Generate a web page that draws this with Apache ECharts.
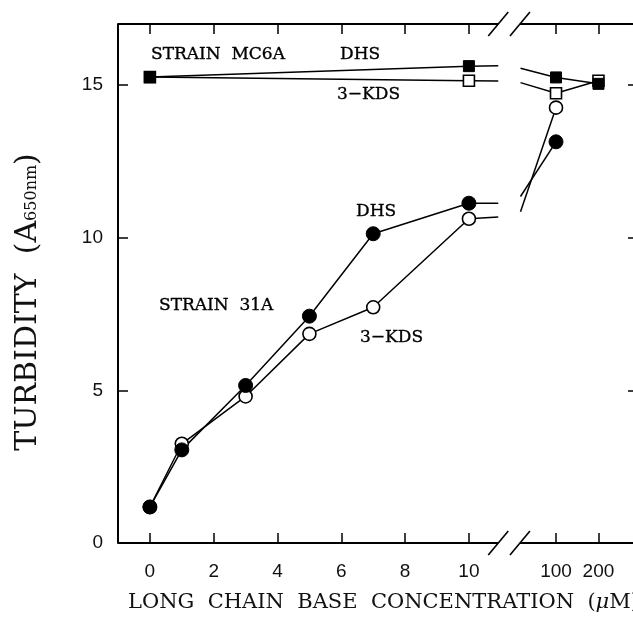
<!DOCTYPE html>
<html>
<head>
<meta charset="utf-8">
<script src="https://cdn.jsdelivr.net/npm/echarts@6/dist/echarts.min.js"></script>
<style>
html,body{margin:0;padding:0;background:#fff;}
#chart{width:633px;height:632px;}
</style>
</head>
<body>
<div id="chart"></div>
<script>
// ---- data ----
const xTickLabels = [0, 2, 4, 6, 8, 10, 100, 200];
const yTickLabels = [0, 5, 10, 15];

// Strain 31A, linear part (µM)
const conc31A = [0, 1, 3, 5, 7, 10];
const dhs31A = [1.18, 3.05, 5.16, 7.43, 10.13, 11.13];
const kds31A = [1.18, 3.25, 4.80, 6.85, 7.72, 10.62];
// Strain 31A, beyond the break
const conc31AHigh = [100];
const dhs31AHigh = [13.14];
const kds31AHigh = [14.26];

// Strain MC6A
const concMC6ALow = [0, 10];
const dhsMC6ALow = [15.26, 15.62];
const kdsMC6ALow = [15.26, 15.14];
const concMC6AHigh = [100, 200];
const dhsMC6AHigh = [15.25, 15.04];
const kdsMC6AHigh = [14.73, 15.14];

// line ends at the two sides of the axis break (µM and turbidity)
const breakLeftConc = 10.92;
const breakRightConc = 56;
const stubLeft = { dhs31A: 11.13, kds31A: 10.68, dhsMC6A: 15.63, kdsMC6A: 15.13 };
const stubRight = { dhs31A: 11.35, kds31A: 10.85, dhsMC6A: 15.55, kdsMC6A: 15.08 };

// ---- broken axis: linear up to the break, logarithmic after ----
const LOG_ORIGIN = 12.73;   // axis position of 100 µM
const LOG_SCALE = 4.42;     // axis units per decade
function pos(c) { return c <= 11 ? c : LOG_ORIGIN + LOG_SCALE * Math.log10(c / 100); }
const BREAK_A = 10.92, BREAK_B = 11.6;
const X_MIN = -1, X_MAX = 15.3;
const tickPositions = xTickLabels.map(pos);
function labelFor(v) {
  let best = 0, d = 1e9;
  tickPositions.forEach((p, i) => { if (Math.abs(p - v) < d) { d = Math.abs(p - v); best = i; } });
  return String(xTickLabels[best]);
}

const SERIF = 'DejaVu Serif';
const SANS = 'Liberation Sans';
const INK = '#111';

function pts(xs, ys) { return xs.map((x, i) => [pos(x), ys[i]]); }
function bare(x, y) { return { value: [pos(x), y], symbol: 'none' }; }

const filled = { color: '#000', borderColor: '#000', borderWidth: 1 };
const open = { color: '#fff', borderColor: '#000', borderWidth: 1.6 };
function lineSeries(data, symbol, size, style) {
  return {
    type: 'line', data: data, symbol: symbol, symbolSize: size,
    showAllSymbol: true, animation: false,
    lineStyle: { color: '#000', width: 1.5 },
    itemStyle: style, emphasis: { disabled: true }, z: 3
  };
}

const series = [
  // MC6A 3-KDS (open squares)
  lineSeries(pts(concMC6ALow, kdsMC6ALow).concat([bare(breakLeftConc, stubLeft.kdsMC6A)]), 'rect', 11, open),
  lineSeries([bare(breakRightConc, stubRight.kdsMC6A)].concat(pts(concMC6AHigh, kdsMC6AHigh)), 'rect', 11, open),
  // MC6A DHS (filled squares)
  lineSeries(pts(concMC6ALow, dhsMC6ALow).concat([bare(breakLeftConc, stubLeft.dhsMC6A)]), 'rect', 11, filled),
  lineSeries([bare(breakRightConc, stubRight.dhsMC6A)].concat(pts(concMC6AHigh, dhsMC6AHigh)), 'rect', 11, filled),
  // 31A 3-KDS (open circles)
  lineSeries(pts(conc31A, kds31A).concat([bare(breakLeftConc, stubLeft.kds31A)]), 'circle', 13, open),
  lineSeries([bare(breakRightConc, stubRight.kds31A)].concat(pts(conc31AHigh, kds31AHigh)), 'circle', 13, open),
  // 31A DHS (filled circles)
  lineSeries(pts(conc31A, dhs31A).concat([bare(breakLeftConc, stubLeft.dhs31A)]), 'circle', 14, filled),
  lineSeries([bare(breakRightConc, stubRight.dhs31A)].concat(pts(conc31AHigh, dhs31AHigh)), 'circle', 14, filled)
];

const tickStyle = { show: true, inside: true, length: 10, lineStyle: { color: '#000', width: 1.5 } };

const chart = echarts.init(document.getElementById('chart'), null, { renderer: 'canvas' });
chart.setOption({
  backgroundColor: '#fff',
  animation: false,
  grid: { left: 118, right: -5, top: 24, bottom: 89, containLabel: false, outerBoundsMode: 'none' },
  xAxis: [{
    type: 'value', position: 'bottom', min: X_MIN, max: X_MAX,
    axisLine: { show: false, onZero: false }, splitLine: { show: false },
    axisTick: Object.assign({ customValues: tickPositions }, tickStyle),
    axisLabel: { customValues: tickPositions, formatter: labelFor, margin: 19,
      fontFamily: SANS, fontSize: 19, color: INK }
  }, {
    type: 'value', position: 'top', min: X_MIN, max: X_MAX,
    axisLine: { show: false, onZero: false }, splitLine: { show: false },
    axisTick: Object.assign({ customValues: tickPositions }, tickStyle),
    axisLabel: { show: false }
  }],
  yAxis: [{
    type: 'value', position: 'left', min: 0, max: 17, interval: 5,
    axisLine: { show: true, onZero: false, lineStyle: { color: '#000', width: 2 } },
    splitLine: { show: false },
    axisTick: tickStyle,
    axisLabel: { margin: 15, fontFamily: SANS, fontSize: 19, color: INK,
      customValues: yTickLabels }
  }, {
    type: 'value', position: 'right', min: 0, max: 17, interval: 5,
    axisLine: { show: false, onZero: false }, splitLine: { show: false },
    axisTick: tickStyle, axisLabel: { show: false }
  }],
  series: series
});

// axis lines with the break marks, placed in data coordinates
function px(x, y) { return chart.convertToPixel({ xAxisIndex: 0, yAxisIndex: 0 }, [x, y]); }
const g = [];
function seg(a, b, w) {
  g.push({ type: 'line', shape: { x1: a[0], y1: a[1], x2: b[0], y2: b[1] },
    style: { stroke: '#000', lineWidth: w }, z: 10, silent: true });
}
[0, 17].forEach(function (yv) {
  const l = px(X_MIN, yv), a = px(BREAK_A, yv), b = px(BREAK_B, yv), r = px(X_MAX, yv);
  seg(l, a, 1.8); seg(b, r, 1.8);
  [a, b].forEach(function (p) { seg([p[0] - 10, p[1] + 12], [p[0] + 10, p[1] - 12], 1.6); });
});

function label(text, x, y, size) {
  g.push({ type: 'text', x: x, y: y, z: 20, silent: true,
    style: { text: text, fontFamily: SERIF, fontSize: size || 17, fill: '#000',
      stroke: '#000', lineWidth: 0.35,
      align: 'left', verticalAlign: 'middle' } });
}
label('STRAIN  MC6A', 151, 55);
label('DHS', 340, 55);
label('3\u2212KDS', 337, 95);
label('DHS', 356, 212);
label('STRAIN  31A', 159, 306);
label('3\u2212KDS', 360, 338);

// axis titles
g.push({ type: 'text', x: 128, y: 603, z: 20, silent: true,
  style: { text: '{a|LONG  CHAIN  BASE  CONCENTRATION  (}{i|\u03bc}{a|M)}',
    align: 'left', verticalAlign: 'middle',
    rich: { a: { fontFamily: SERIF, fontSize: 21, fill: INK },
            i: { fontFamily: SERIF, fontSize: 21, fontStyle: 'italic', fill: INK } } } });
g.push({ type: 'text', x: 28, y: 302, rotation: Math.PI / 2, z: 20, silent: true,
  style: { text: '{a|TURBIDITY  (A}{s|650nm}{a|)}',
    align: 'center', verticalAlign: 'middle',
    rich: { a: { fontFamily: SERIF, fontSize: 30, fill: INK, verticalAlign: 'bottom' },
            s: { fontFamily: SERIF, fontSize: 16, fill: INK, verticalAlign: 'bottom', padding: [0, 0, 3, 0] } } } });

chart.setOption({ graphic: g });
</script>
</body>
</html>
